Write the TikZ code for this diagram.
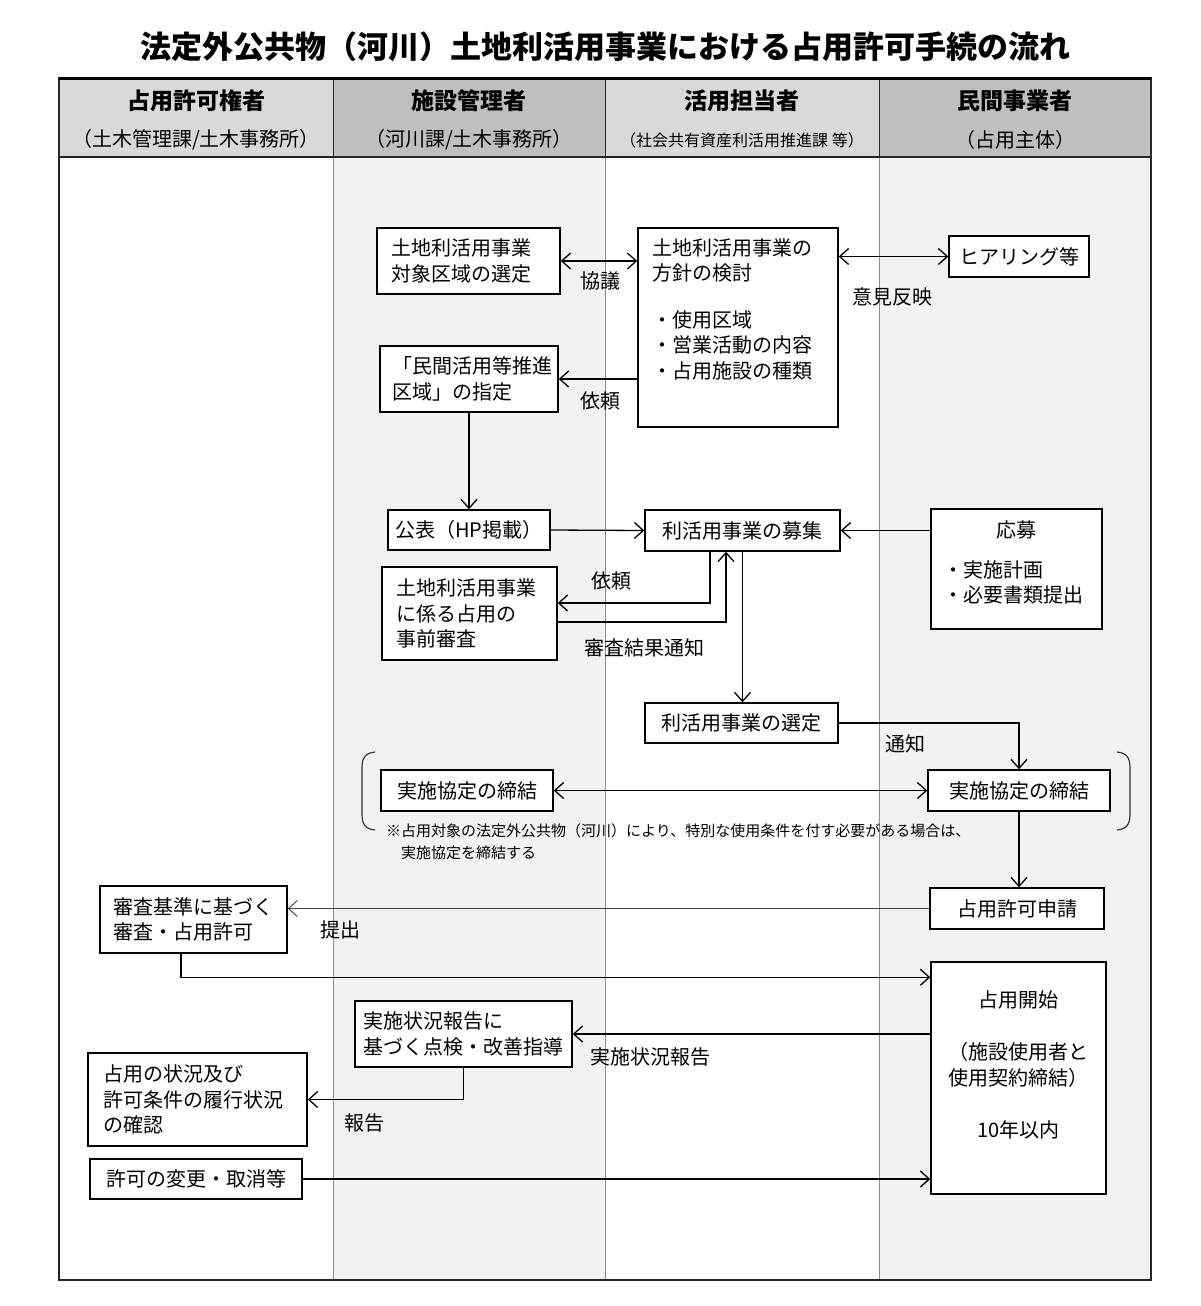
\documentclass[tikz,border=0pt]{standalone}
\usepackage{fontspec}
\setmainfont{Noto Sans CJK JP}
\usepackage{xcolor}
\definecolor{headlight}{HTML}{D9D9D9}
\definecolor{headdark}{HTML}{BFBFBF}
\definecolor{lanegrey}{HTML}{F2F2F2}
\definecolor{laneline}{HTML}{8C8C8C}
\definecolor{framedark}{HTML}{262626}
\usetikzlibrary{arrows.meta,calc}

\begin{document}
\begin{tikzpicture}[x=1pt,y=-1pt,
    box/.style={draw=black, line width=1.4pt, fill=white, inner sep=0pt, font=\fontsize{20}{25.5}\selectfont},
    lbl/.style={inner sep=0pt, font=\fontsize{20}{25.5}\selectfont},
    flow/.style={line width=1.3pt, -{Straight Barb[length=9pt,width=16pt]}},
    twoway/.style={line width=1.3pt, {Straight Barb[length=9pt,width=16pt]}-{Straight Barb[length=9pt,width=16pt]}},
    lanehead/.style={inner sep=0pt, font=\fontsize{23}{28}\selectfont\bfseries},
    lanesub/.style={inner sep=0pt, font=\fontsize{20}{24}\selectfont},
    bracket/.style={line width=1.2pt, draw=black!80}]
  \useasboundingbox (0,0) rectangle (1200,1306);

  % title
  \node[inner sep=0pt, font=\fontsize{31}{36}\selectfont\bfseries] (title) at (605,47) {法定外公共物（河川）土地利活用事業における占用許可手続の流れ};

  % lanes
  \fill[headlight] (59,78) rectangle (333,157);
  \fill[headdark] (333,78) rectangle (605,157);
  \fill[headlight] (605,78) rectangle (879,157);
  \fill[headdark] (879,78) rectangle (1151,157);
  \fill[lanegrey] (333,157) rectangle (605,1280);
  \fill[lanegrey] (879,157) rectangle (1151,1280);
  \draw[laneline, line width=0.8pt] (333,157) -- (333,1280) (605,157) -- (605,1280) (879,157) -- (879,1280);
  \draw[framedark, line width=1pt] (333,78) -- (333,157) (605,78) -- (605,157) (879,78) -- (879,157);
  \draw[framedark, line width=1.5pt] (59,157) -- (1151,157);
  \draw[framedark, line width=1.8pt] (59,78) rectangle (1151,1280);
  \draw[black, line width=3pt] (59,78) -- (1151,78);

  \node[lanehead] (head1) at (196,101) {占用許可権者};
  \node[lanesub] (sub1) at (196,140) {（土木管理課/土木事務所）};
  \node[lanehead] (head2) at (469,101) {施設管理者};
  \node[lanesub] (sub2) at (469,140) {（河川課/土木事務所）};
  \node[lanehead] (head3) at (742,101) {活用担当者};
  \node[lanesub, font=\fontsize{16}{20}\selectfont] (sub3) at (742,140) {（社会共有資産利活用推進課 等）};
  \node[lanehead] (head4) at (1015,101) {民間事業者};
  \node[lanesub] (sub4) at (1015,140) {（占用主体）};

  % boxes
  \node[box, minimum width=183, minimum height=66, text width=155, align=left] (selarea) at (468.5,261) {土地利活用事業\\対象区域の選定};
  \node[box, minimum width=200, minimum height=199] (policy) at (738,327.5) {};
  \node[lbl, anchor=north west, align=left] (policytxt) at (652,238) {土地利活用事業の\\方針の検討\\[21pt]・使用区域\\・営業活動の内容\\・占用施設の種類};
  \node[box, minimum width=140, minimum height=41] (hearing) at (1019,256.5) {ヒアリング等};
  \node[box, minimum width=178, minimum height=66, text width=154, align=left] (zone) at (469,379) {「民間活用等推進\\区域」の指定};
  \node[box, minimum width=162, minimum height=40] (publish) at (469,530) {公表（HP掲載）};
  \node[box, minimum width=195, minimum height=41] (recruit) at (742.5,530.5) {利活用事業の募集};
  \node[box, minimum width=171, minimum height=120] (apply) at (1016.5,569) {};
  \node[lbl] (applyhead) at (1016.5,530) {応募};
  \node[lbl, anchor=north west, align=left] (applyitems) at (943,560) {・実施計画\\・必要書類提出};
  \node[box, minimum width=175, minimum height=93, text width=147, align=left] (prereview) at (469.5,613.5) {土地利活用事業\\に係る占用の\\事前審査};
  \node[box, minimum width=193, minimum height=40] (select) at (741.5,723) {利活用事業の選定};
  \node[box, minimum width=172, minimum height=41] (agreeL) at (467,790.5) {実施協定の締結};
  \node[box, minimum width=182, minimum height=41] (agreeR) at (1019,790.5) {実施協定の締結};
  \node[box, minimum width=174, minimum height=41] (permitapp) at (1017,908.5) {占用許可申請};
  \node[box, minimum width=187, minimum height=67, align=left] (review) at (193.5,919.5) {審査基準に基づく\\審査・占用許可};
  \node[box, minimum width=175, minimum height=232] (start) at (1018.5,1078) {};
  \node[lbl, anchor=north, align=center] (starttxt) at (1018.5,990) {占用開始\\[27pt]（施設使用者と\\使用契約締結）\\[27pt]10年以内};
  \node[box, minimum width=217, minimum height=66, align=left] (inspect) at (463.5,1034) {実施状況報告に\\基づく点検・改善指導};
  \node[box, minimum width=219, minimum height=93, text width=189, align=left] (confirm) at (197.5,1099.5) {占用の状況及び\\許可条件の履行状況\\の確認};
  \node[box, minimum width=212, minimum height=40] (change) at (196,1179) {許可の変更・取消等};

  % bracket and note
  \draw[bracket] (375,752) .. controls (365,753) and (362,758) .. (362,768) -- (362,814) .. controls (362,824) and (365,829) .. (375,830);
  \draw[bracket] (1117,752) .. controls (1127,753) and (1130,758) .. (1130,768) -- (1130,814) .. controls (1130,824) and (1127,829) .. (1117,830);
  \node[lbl, anchor=north west, align=left, font=\fontsize{15}{22}\selectfont] (note) at (386,823) {※占用対象の法定外公共物（河川）により、特別な使用条件を付す必要がある場合は、\\\hspace*{15pt}実施協定を締結する};

  % connectors
  \draw[twoway] (selarea.east) -- (selarea.east -| policy.west);
  \node[lbl] (lblkyogi) at (600,281) {協議};
  \draw[twoway] (policy.east |- hearing.west) -- (hearing.west);
  \node[lbl] (lblikenn) at (892,297) {意見反映};
  \draw[flow] (zone.east -| policy.west) -- (zone.east);
  \node[lbl] (lblirai1) at (600,401) {依頼};
  \draw[flow] (zone.south) -- (publish.north);
  \draw[flow] (publish.east) -- (recruit.west);
  \draw[flow] (apply.west |- recruit.east) -- (recruit.east);
  \draw[flow] ([xshift=-32.5pt]recruit.south) |- ([yshift=10.5pt]prereview.east);
  \node[lbl] (lblirai2) at (611,581) {依頼};
  \draw[flow] ([yshift=-8.5pt]prereview.east) -| ([xshift=-16.5pt]recruit.south);
  \node[lbl] (lblresult) at (644,648) {審査結果通知};
  \draw[flow] (recruit.south) -- (recruit.south |- select.north);
  \draw[flow] (select.east) -| (agreeR.north);
  \node[lbl] (lbltsuchi) at (905,744) {通知};
  \draw[twoway] (agreeL.east) -- (agreeR.west);
  \draw[flow] (agreeR.south) -- (agreeR.south |- permitapp.north);
  \draw[flow, line width=0.9pt, draw=black!75] (permitapp.west) -- (permitapp.west -| review.east);
  \node[lbl] (lblteishutsu) at (340,930) {提出};
  \draw[flow] ([xshift=-12.5pt]review.south) |- ([yshift=-16pt]start.north west);
  \draw[flow] (start.west |- inspect.east) -- (inspect.east);
  \node[lbl] (lbljisshi) at (650,1057) {実施状況報告};
  \draw[flow] (inspect.south) |- (confirm.east);
  \node[lbl] (lblhoukoku) at (364,1123) {報告};
  \draw[flow] (change.east) -- (change.east -| start.west);
\end{tikzpicture}
\end{document}
